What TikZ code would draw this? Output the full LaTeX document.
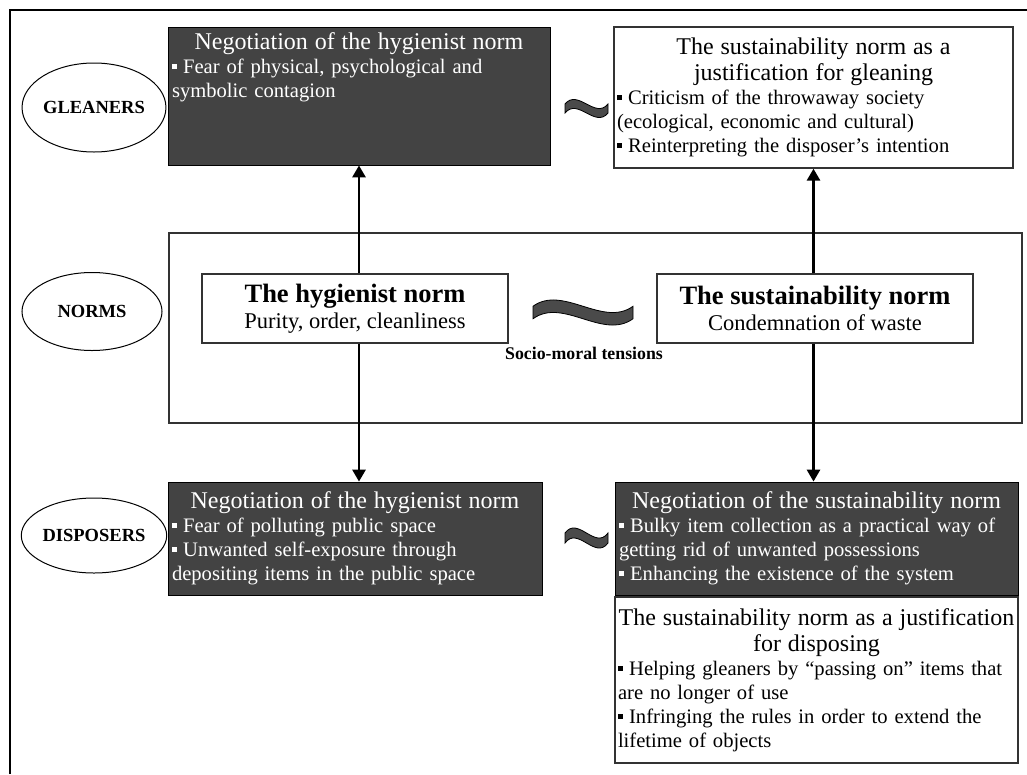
\documentclass[tikz,border=0pt]{standalone}
\usepackage{fontspec}
\setmainfont{Liberation Serif}
\usetikzlibrary{positioning,arrows.meta,shapes.geometric}
\definecolor{boxgrey}{HTML}{434343}
\definecolor{wavegrey}{HTML}{4A4A4A}
\newcommand{\ttlfont}{\fontsize{24}{26}\selectfont}
\newcommand{\bodyfont}{\fontsize{20.6}{24}\selectfont}
\newcommand{\sqb}{\raisebox{0.22em}{\rule{0.24em}{0.24em}}\hspace{0.3em}}
% wavy "tension" band: centre, width, height
\newcommand{\tildemark}[3]{%
  \begin{scope}[shift={#1}, xscale=#2, yscale=#3]
    \filldraw[fill=wavegrey, draw=black, line width=0.8pt]
      (-0.5,-0.25) .. controls (-0.2,-1.12) and (0.2,0.62) .. (0.5,-0.25)
      -- (0.5,0.25) .. controls (0.2,1.12) and (-0.2,-0.62) .. (-0.5,0.25) -- cycle;
  \end{scope}}
\tikzset{
  darkb/.style={draw=black, line width=0.8pt, fill=boxgrey, text=white, align=left,
    inner xsep=4pt, inner ysep=2pt, font=\bodyfont},
  whiteb/.style={draw=black!80, line width=1.3pt, fill=white, align=left,
    inner xsep=3pt, inner ysep=2pt, font=\bodyfont},
  normb/.style={draw=black!80, line width=1.3pt, fill=white, align=center, inner sep=2pt},
  actor/.style={ellipse, draw=black, line width=1pt, inner sep=0pt,
    font=\bfseries\fontsize{18.5}{20}\selectfont},
  flow/.style={-{Triangle[length=12pt,width=13pt]}, line width=2.8pt},
  tenslab/.style={font=\bfseries\fontsize{17.8}{20}\selectfont, inner sep=1pt},
}

\begin{document}
\begin{tikzpicture}[x=1pt,y=-1pt]
  \useasboundingbox (0,0) rectangle (1027,774);
  \draw[line width=2.5pt] (10,774) -- (10,10) -- (1027,10);

  % actors
  \node[actor, minimum width=132pt, minimum height=89pt] (gleaners) at (94,107.5) {GLEANERS};
  \node[actor, minimum width=140pt, minimum height=78pt] (norms) at (92,311.5) {NORMS};
  \node[actor, minimum width=132pt, minimum height=75pt] (disposers) at (94,535.5) {DISPOSERS};

  % gleaners row
  \node[darkb, text width=374pt, minimum height=138pt] (glhyg) at (359,96)
    {{\centering\ttlfont Negotiation of the hygienist norm\par}
     \sqb Fear of physical, psychological and\\ symbolic contagion\par\vspace*{58pt}};
  \node[whiteb, text width=393pt, minimum height=141pt] (glsus) at (813.5,97.5)
    {{\centering\ttlfont The sustainability norm as a\\ justification for gleaning\par}
     \sqb Criticism of the throwaway society\\ (ecological, economic and cultural)\\
     \sqb Reinterpreting the disposer's intention};

  % norms
  \node[draw=black!80, line width=1.3pt, minimum width=853pt, minimum height=190pt] (normframe) at (595.5,328) {};
  \node[normb, minimum width=306pt, minimum height=69pt] (hygnorm) at (355,308.5)
    {{\bfseries\fontsize{26.5}{27}\selectfont The hygienist norm}\\[3pt]
     {\fontsize{22.5}{24}\selectfont Purity, order, cleanliness}};
  \node[normb, minimum width=316pt, minimum height=69pt] (susnorm) at (815,308.5)
    {{\bfseries\fontsize{26.5}{27}\selectfont The sustainability norm}\\[3pt]
     {\fontsize{22.5}{24}\selectfont Condemnation of waste}};
  \node[tenslab] (tension) at (584,353) {Socio-moral tensions};

  % disposers row
  \node[darkb, text width=366pt, minimum height=113pt] (dshyg) at (355,538.5)
    {{\centering\ttlfont Negotiation of the hygienist norm\par}
     \sqb Fear of polluting public space\\
     \sqb Unwanted self-exposure through\\ depositing items in the public space};
  \node[darkb, text width=395pt, minimum height=113pt] (dssus) at (816.5,538.5)
    {{\centering\ttlfont Negotiation of the sustainability norm\par}
     \sqb Bulky item collection as a practical way of\\ getting rid of unwanted possessions\\
     \sqb Enhancing the existence of the system};
  \node[whiteb, text width=397pt, minimum height=166pt] (dsjust) at (816.5,680)
    {{\centering\ttlfont The sustainability norm as a justification\\ for disposing\par}
     \sqb Helping gleaners by ``passing on'' items that\\ are no longer of use\\
     \sqb Infringing the rules in order to extend the\\ lifetime of objects};

  % links
  \draw[flow] (glhyg.south |- hygnorm.north) -- (glhyg.south);
  \draw[flow] (glhyg.south |- hygnorm.south) -- (glhyg.south |- dshyg.north);
  \draw[flow] (glsus.south |- susnorm.north) -- (glsus.south);
  \draw[flow] (glsus.south |- susnorm.south) -- (glsus.south |- dssus.north);

  % tensions
  \tildemark{(586.5,108.5)}{43}{18}
  \tildemark{(583,312.5)}{100}{25}
  \tildemark{(586.5,538)}{43}{20}
\end{tikzpicture}
\end{document}
